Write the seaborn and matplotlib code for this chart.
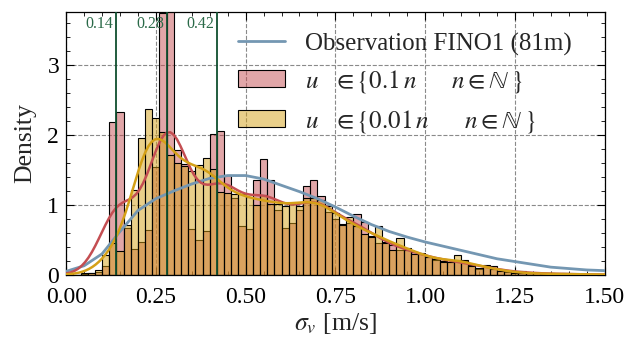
import numpy as np
import matplotlib
matplotlib.use("Agg")
import matplotlib.pyplot as plt
import seaborn as sns
from matplotlib.lines import Line2D
from matplotlib.patches import Patch
from matplotlib.ticker import AutoMinorLocator, MultipleLocator, FormatStrFormatter

# ---------------- data ----------------
bin_width = 0.02
x_max = 1.5

red_density = [0.00, 0.00, 0.01, 0.02, 0.04, 0.12, 2.19, 2.33, 0.67, 0.37,
               0.47, 0.64, 1.54, 3.74, 3.95, 1.79, 1.58, 0.66, 0.50, 0.62,
               2.02, 2.06, 1.43, 1.10, 0.70, 0.65, 1.35, 1.66, 1.36, 0.93,
               0.67, 0.74, 0.93, 1.27, 1.36, 1.13, 0.90, 0.80, 0.73, 0.74,
               0.87, 0.75, 0.56, 0.45, 0.47, 0.42, 0.35, 0.38, 0.32, 0.30,
               0.26, 0.21, 0.20, 0.19, 0.21, 0.20, 0.14, 0.09, 0.12, 0.13,
               0.05, 0.04, 0.03, 0.05, 0.03, 0.02, 0.02, 0.01, 0.01, 0.02,
               0.01, 0.01, 0.00, 0.01, 0.00]

yellow_density = [0.01, 0.00, 0.02, 0.03, 0.07, 0.28, 0.45, 0.34, 0.72, 1.21,
                  1.96, 2.37, 2.25, 2.04, 1.72, 1.60, 1.56, 1.49, 1.57, 1.67,
                  1.52, 1.19, 1.17, 1.16, 1.15, 1.12, 1.00, 1.14, 1.02, 1.02,
                  0.99, 1.02, 0.98, 1.10, 1.10, 1.07, 0.98, 0.88, 0.72, 0.83,
                  0.70, 0.59, 0.54, 0.70, 0.45, 0.35, 0.53, 0.36, 0.30, 0.31,
                  0.25, 0.22, 0.19, 0.18, 0.29, 0.21, 0.12, 0.10, 0.14, 0.09,
                  0.06, 0.05, 0.03, 0.03, 0.02, 0.02, 0.01, 0.02, 0.01, 0.01,
                  0.01, 0.01, 0.01, 0.00, 0.01]

obs_x = [0.00, 0.05, 0.10, 0.15, 0.20, 0.25, 0.30, 0.35, 0.40, 0.45, 0.50,
         0.55, 0.60, 0.65, 0.70, 0.75, 0.80, 0.85, 0.90, 0.95, 1.00, 1.05,
         1.10, 1.15, 1.20, 1.25, 1.30, 1.35, 1.40, 1.45, 1.50]
obs_density = [0.05, 0.13, 0.30, 0.62, 0.92, 1.09, 1.20, 1.30, 1.38, 1.42, 1.42,
               1.37, 1.28, 1.19, 1.09, 0.97, 0.84, 0.72, 0.62, 0.54, 0.47, 0.41,
               0.35, 0.29, 0.23, 0.19, 0.15, 0.11, 0.09, 0.07, 0.06]

ref_lines = [0.14, 0.28, 0.42]
ref_labels = ["0.14", "0.28", "0.42"]

label_obs = "Observation FINO1 (81m)"
label_red = r"$u\;\;\;\in\{0.1\,n\qquad n\in\mathbb{N}\;\}$"
label_yel = r"$u\;\;\;\in\{0.01\,n\qquad n\in\mathbb{N}\;\}$"

# ---------------- style ----------------
sns.set_theme(style="ticks")
plt.rcParams["font.family"] = ["Liberation Serif", "DejaVu Serif"]
plt.rcParams["mathtext.fontset"] = "stix"
plt.rcParams["axes.edgecolor"] = "black"
plt.rcParams["axes.linewidth"] = 0.9

red_c = "#c44e52"
red_line = "#c8413f"
yel_c = "#d4a017"
obs_c = "#7497b2"
green_c = "#0f4f2f"

n_bins = len(red_density)
centers = (np.arange(n_bins) + 0.5) * bin_width

fig, ax = plt.subplots(figsize=(6.24, 3.41), dpi=100)
fig.subplots_adjust(left=0.106, right=0.969, bottom=0.194, top=0.965)

ax.grid(True, which="major", ls="--", color="#8a8a8a", lw=0.8)
ax.set_axisbelow(True)

sns.lineplot(x=obs_x, y=obs_density, color=obs_c, lw=2.0, ax=ax, zorder=4)

sns.histplot(x=centers, weights=np.asarray(red_density), binwidth=bin_width,
             binrange=(0, n_bins * bin_width), stat="count",
             kde=True, color=red_c, alpha=0.5, edgecolor="black", linewidth=0.8,
             kde_kws={"bw_adjust": 0.37, "cut": 3},
             line_kws={"lw": 1.8, "color": red_line, "zorder": 5}, ax=ax)
sns.histplot(x=centers, weights=np.asarray(yellow_density), binwidth=bin_width,
             binrange=(0, n_bins * bin_width), stat="count",
             kde=True, color=yel_c, alpha=0.5, edgecolor="black", linewidth=0.8,
             kde_kws={"bw_adjust": 0.32, "cut": 3},
             line_kws={"lw": 1.8, "color": yel_c, "zorder": 6}, ax=ax)

for xv, lab in zip(ref_lines, ref_labels):
    ax.axvline(xv, color=green_c, lw=1.3, zorder=7)
    ax.annotate(lab, xy=(xv, 0.955), xycoords=("data", "axes fraction"),
                xytext=(-2, 0), textcoords="offset points",
                ha="right", va="center", color="#2a6a48", fontsize=11.5)

ax.set_xlim(0, x_max)
ax.set_ylim(0, 3.76)
ax.xaxis.set_major_locator(MultipleLocator(0.25))
ax.yaxis.set_major_locator(MultipleLocator(1))
ax.xaxis.set_minor_locator(AutoMinorLocator())
ax.yaxis.set_minor_locator(AutoMinorLocator())
ax.tick_params(which="both", direction="in", top=True, right=True,
               colors="black", labelsize=17)
ax.tick_params(which="major", length=6, width=0.8)
ax.tick_params(which="minor", length=3, width=0.6)
ax.tick_params(axis="x", which="major", pad=9)
ax.tick_params(axis="y", which="major", pad=5)
ax.xaxis.set_major_formatter(FormatStrFormatter("%.2f"))

ax.set_xlabel(r"$\sigma_v$ [m/s]", fontsize=18.5, labelpad=2)
ax.set_ylabel("Density", fontsize=18.5, labelpad=8)

handles = [Line2D([], [], color=obs_c, lw=2.0),
           Patch(facecolor=matplotlib.colors.to_rgba(red_c, 0.5), edgecolor="black", lw=0.8),
           Patch(facecolor=matplotlib.colors.to_rgba(yel_c, 0.5), edgecolor="black", lw=0.8)]
ax.legend(handles=handles, labels=[label_obs, label_red, label_yel],
          loc="upper left", bbox_to_anchor=(0.30, 0.96), borderaxespad=0,
          frameon=False, fontsize=18, handlelength=1.9, handleheight=0.68,
          labelspacing=0.5, handletextpad=0.8)

fig.savefig("out.png", dpi=100)
